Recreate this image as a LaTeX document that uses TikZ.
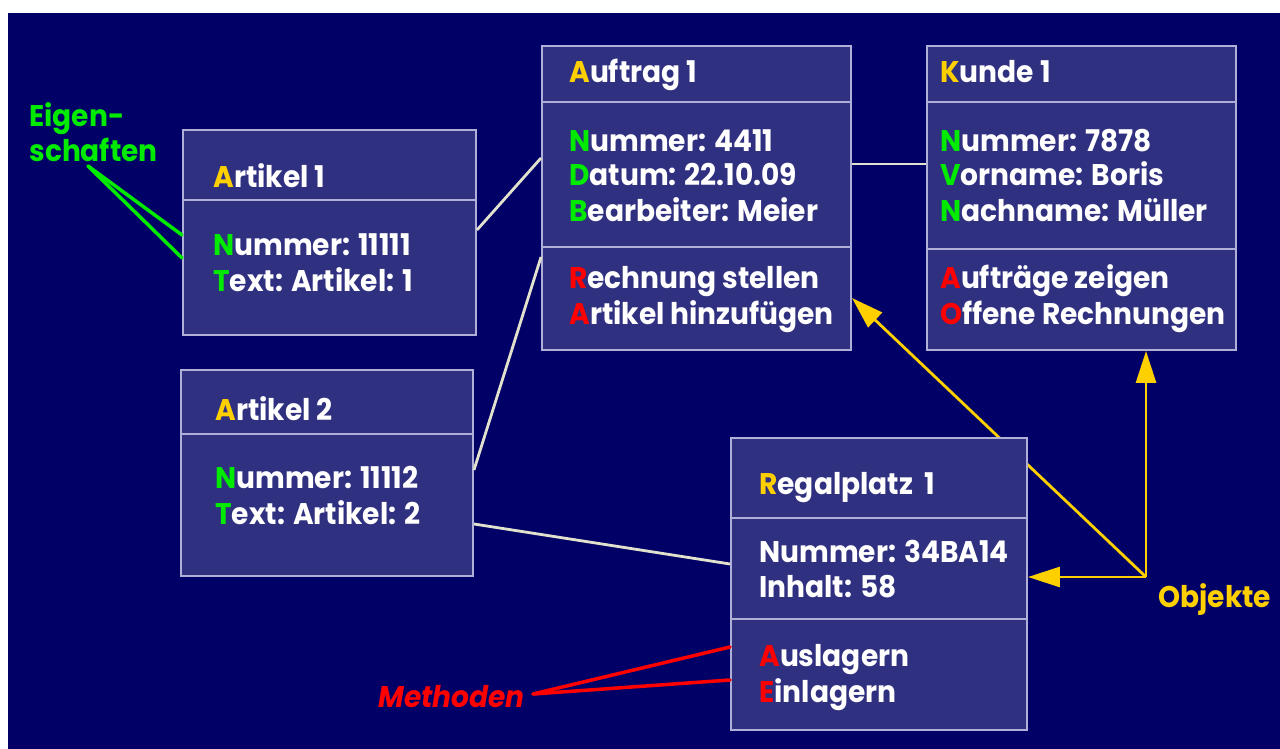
\documentclass[tikz,border=0pt]{standalone}
\usepackage{fontspec}
\setmainfont{Poppins}[FakeStretch=0.94,Numbers=Monospaced]
\usetikzlibrary{fit,backgrounds,arrows.meta}
\usepackage{xcolor}
\definecolor{grund}{RGB}{0,0,102}
\definecolor{kastenblau}{RGB}{48,48,128}
\definecolor{rand}{RGB}{175,175,215}
\definecolor{linie}{RGB}{225,225,205}
\definecolor{gelb}{RGB}{255,208,0}
\definecolor{gruen}{RGB}{0,235,0}
\definecolor{rot}{RGB}{255,0,0}
\newcommand{\tgelb}[1]{\textcolor{gelb}{#1}}
\newcommand{\tgruen}[1]{\textcolor{gruen}{#1}}
\newcommand{\trot}[1]{\textcolor{rot}{#1}}

\begin{document}
\begin{tikzpicture}[x=0.02cm,y=-0.02cm,
  objbox/.style={draw=rand,fill=kastenblau,line width=1.1pt,inner sep=0pt},
  trenn/.style={draw=rand,line width=1.1pt},
  zeile/.style={font=\bfseries\fontsize{17}{20}\selectfont,text=white,anchor=base west,inner sep=0pt},
  verb/.style={draw=linie,line width=1.6pt},
  objpfeil/.style={draw=gelb,line width=1.6pt,-{Triangle[length=0.64cm,width=0.4cm]}},
  gruenlinie/.style={draw=gruen,line width=2pt,line cap=round},
  rotlinie/.style={draw=rot,line width=2pt,line cap=round}]
\useasboundingbox (0,0) rectangle (1280,749);

\node[objbox,fit={(183,130) (476,335)}] (art1) {};
\draw[trenn] (art1.west |- 0,200) -- (art1.east |- 0,200);
\node[zeile] (art1t) at (213,188) {\tgelb{A}rtikel 1};
\node[zeile] (art1a) at (213,256) {\tgruen{N}ummer: 11111};
\node[zeile] (art1b) at (213,292) {\tgruen{T}ext: Artikel: 1};

\node[objbox,fit={(181,370) (473,576)}] (art2) {};
\draw[trenn] (art2.west |- 0,434) -- (art2.east |- 0,434);
\node[zeile] (art2t) at (215,420) {\tgelb{A}rtikel 2};
\node[zeile] (art2a) at (215,488) {\tgruen{N}ummer: 11112};
\node[zeile] (art2b) at (215,524) {\tgruen{T}ext: Artikel: 2};

\node[objbox,fit={(542,46) (851,350)}] (auf) {};
\draw[trenn] (auf.west |- 0,102) -- (auf.east |- 0,102);
\draw[trenn] (auf.west |- 0,247) -- (auf.east |- 0,247);
\node[zeile] (auft) at (569,83) {\tgelb{A}uftrag 1};
\node[zeile] (aufa) at (569,152) {\tgruen{N}ummer: 4411};
\node[zeile] (aufb) at (569,186) {\tgruen{D}atum: 22.10.09};
\node[zeile] (aufc) at (569,222) {\tgruen{B}earbeiter: Meier};
\node[zeile] (aufm1) at (569,289) {\trot{R}echnung stellen};
\node[zeile] (aufm2) at (569,325) {\trot{A}rtikel hinzufügen};

\node[objbox,fit={(927,46) (1236,350)}] (kun) {};
\draw[trenn] (kun.west |- 0,102) -- (kun.east |- 0,102);
\draw[trenn] (kun.west |- 0,249) -- (kun.east |- 0,249);
\node[zeile] (kunt) at (940,83) {\tgelb{K}unde 1};
\node[zeile] (kuna) at (940,152) {\tgruen{N}ummer: 7878};
\node[zeile] (kunb) at (940,186) {\tgruen{V}orname: Boris};
\node[zeile] (kunc) at (940,222) {\tgruen{N}achname: Müller};
\node[zeile] (kunm1) at (940,289) {\trot{A}ufträge zeigen};
\node[zeile] (kunm2) at (940,325) {\trot{O}ffene Rechnungen};

\node[objbox,fit={(731,438) (1027,730)}] (reg) {};
\draw[trenn] (reg.west |- 0,518) -- (reg.east |- 0,518);
\draw[trenn] (reg.west |- 0,619) -- (reg.east |- 0,619);
\node[zeile] (regt) at (759,494) {\tgelb{R}egalplatz\ \ 1};
\node[zeile] (rega) at (759,562) {Nummer: 34BA14};
\node[zeile] (regb) at (759,597) {Inhalt: 58};
\node[zeile] (regm1) at (759,666) {\trot{A}uslagern};
\node[zeile] (regm2) at (759,702) {\trot{E}inlagern};

\draw[verb] (art1.east |- 0,230) -- (auf.west |- 0,158);
\draw[verb] (art2.east |- 0,470) -- (auf.west |- 0,257);
\draw[verb] (art2.east |- 0,524) -- (reg.west |- 0,564);
\draw[verb] (auf.east |- 0,164) -- (kun.west |- 0,164);

\coordinate (obj) at (1146,577);
\node[zeile,text=gelb] (objt) at (1158,607) {Objekte};
\draw[objpfeil] (obj) -- (reg.east |- obj);
\draw[objpfeil] (obj) -- (kun.south -| obj);

\coordinate (eig) at (88,166);
\node[zeile,text=gruen] (eigt1) at (29,127) {Eigen-};
\node[zeile,text=gruen] (eigt2) at (29,162) {schaften};
\draw[gruenlinie] (eig) -- (art1.west |- 0,235);
\draw[gruenlinie] (eig) -- (art1.west |- 0,258);

\coordinate (meth) at (533,694);
\node[zeile,text=rot,font=\bfseries\itshape\fontsize{17}{20}\selectfont] (metht) at (378,707) {Methoden};
\draw[rotlinie] (meth) -- (reg.west |- 0,647);
\draw[rotlinie] (meth) -- (reg.west |- 0,680);

\begin{scope}[on background layer]
\fill[white] (0,0) rectangle (1280,749);
\fill[grund] (8,13) rectangle (1280,749);
\draw[objpfeil] (obj) -- (auf.east |- 0,298);
\end{scope}
\end{tikzpicture}
\end{document}
